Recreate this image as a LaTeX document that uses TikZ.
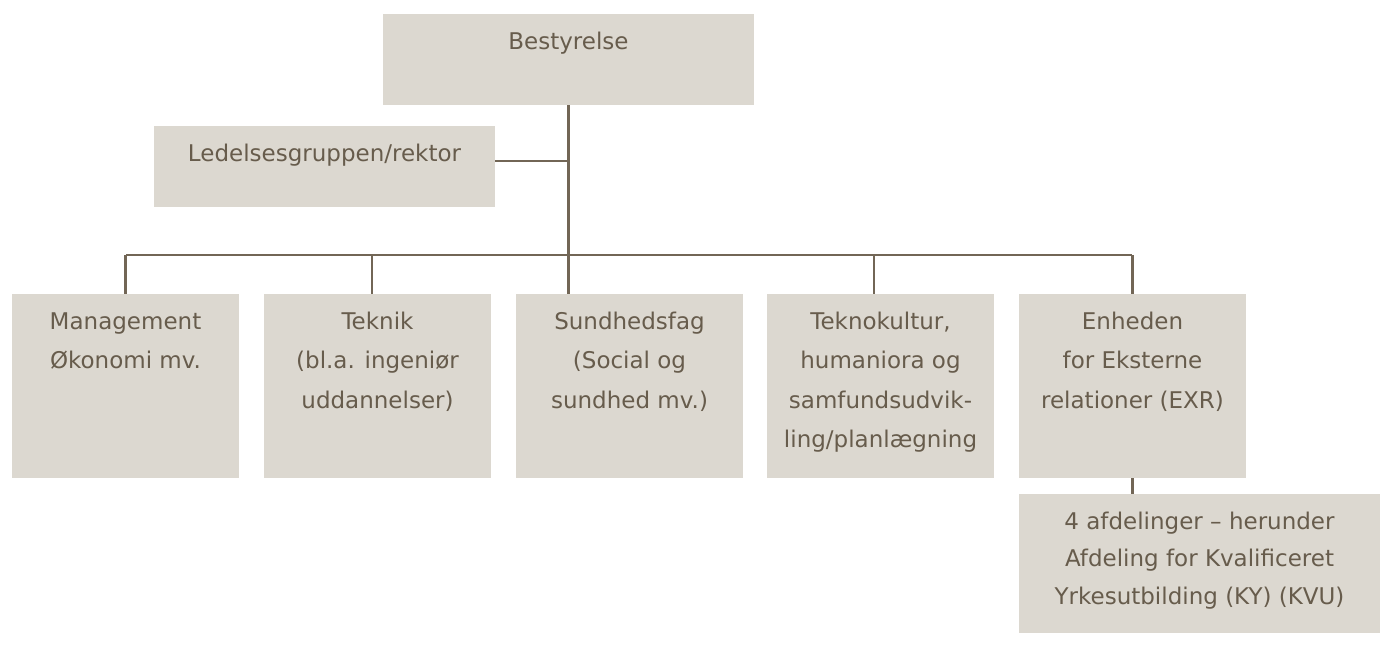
\documentclass[tikz,border=0pt]{standalone}
\usepackage{fontspec}
\setmainfont{DejaVu Sans}
\usetikzlibrary{calc}
\definecolor{boxfill}{HTML}{DCD8D0}
\definecolor{inktext}{HTML}{675C4C}
\definecolor{inkline}{HTML}{726656}
\begin{document}
\begin{tikzpicture}[x=1pt,y=-1pt,
  unitbox/.style={fill=boxfill,draw=none,inner sep=0pt},
  unittext/.style={anchor=north,inner sep=0pt,align=center,text=inktext,
    font=\fontsize{23}{39.5}\selectfont},
  link/.style={draw=inkline,line width=2.3pt}]
\useasboundingbox (0,0) rectangle (1391,646);

% boxes
\node[unitbox,minimum width=371pt,minimum height=91pt]  (best)  at (568.5,59.5) {};
\node[unitbox,minimum width=341pt,minimum height=81pt]  (ledel) at (324.5,166.5) {};
\node[unitbox,minimum width=227pt,minimum height=184pt] (b1) at (125.5,386) {};
\node[unitbox,minimum width=227pt,minimum height=184pt] (b2) at (377.5,386) {};
\node[unitbox,minimum width=227pt,minimum height=184pt] (b3) at (629.5,386) {};
\node[unitbox,minimum width=227pt,minimum height=184pt] (b4) at (880.5,386) {};
\node[unitbox,minimum width=227pt,minimum height=184pt] (b5) at (1132.5,386) {};
\node[unitbox,minimum width=361pt,minimum height=139pt] (b6) at (1199.5,563.5) {};

% labels, first baseline 35pt below each box top
\node[unittext] (tbest)  at ([yshift=-7.35pt]best.north)  {\strut Bestyrelse};
\node[unittext] (tledel) at ([yshift=-7.35pt]ledel.north) {\strut Ledelsesgruppen/rektor};
\node[unittext] (t1) at ([yshift=-7.35pt]b1.north) {\strut Management\\Økonomi mv.};
\node[unittext] (t2) at ([yshift=-7.35pt]b2.north) {\strut Teknik\\(bl.a. ingeniør\\uddannelser)};
\node[unittext] (t3) at ([yshift=-7.35pt]b3.north) {\strut Sundhedsfag\\(Social og\\sundhed mv.)};
\node[unittext] (t4) at ([yshift=-7.35pt]b4.north) {\strut Teknokultur,\\humaniora og\\samfundsudvik-\\ling/planlægning};
\node[unittext] (t5) at ([yshift=-7.35pt]b5.north) {\strut Enheden\\for Eksterne\\relationer (EXR)};
\node[unittext,font=\fontsize{23}{37.5}\selectfont] (t6) at ([yshift=-8.75pt]b6.north)
  {\strut 4 afdelinger – herunder\\Afdeling for Kvalificeret\\Yrkesutbilding (KY) (KVU)};

% connectors
\coordinate (barL) at (126,255);
\coordinate (barR) at (1132,255);
\draw[link] (best.south) -- (best.south |- b3.north);
\draw[link] ([yshift=5.5pt]ledel.east) -- ([yshift=5.5pt]ledel.east -| best.south);
\draw[link] (barL) -- (barR);
\draw[link] (b1.north) -- (b1.north |- barL);
\draw[link] ([xshift=-5.5pt]b2.north) -- ([xshift=-5.5pt]b2.north |- barL);
\draw[link] ([xshift=-6.5pt]b4.north) -- ([xshift=-6.5pt]b4.north |- barL);
\draw[link] (b5.north) -- (b5.north |- barR);
\draw[link] (b5.south) -- (b6.north -| b5.south);
\end{tikzpicture}
\end{document}
